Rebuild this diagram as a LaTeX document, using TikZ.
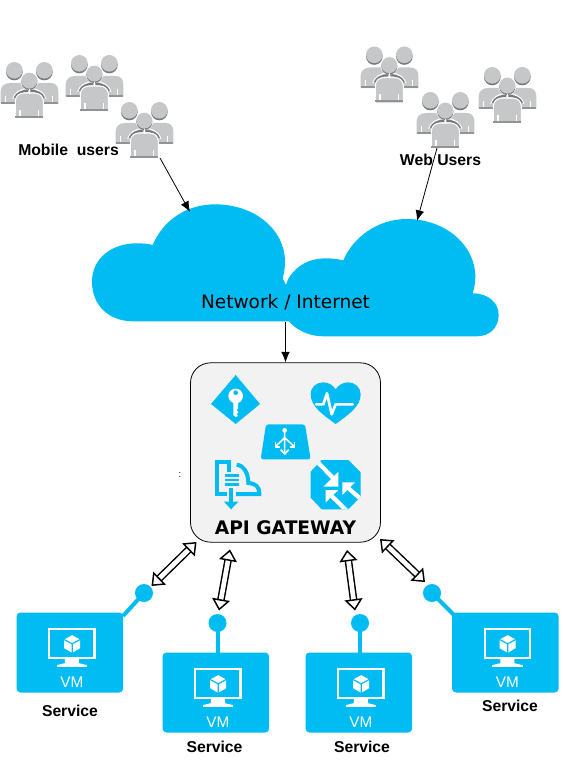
\documentclass[tikz,border=0pt]{standalone}
\usepackage{fontspec}
\setmainfont{Liberation Sans}
\newfontfamily\dejavu{DejaVu Sans}
\usetikzlibrary{arrows.meta,calc}
\definecolor{azure}{HTML}{00BCF2}
\definecolor{pgray}{HTML}{C6C7C9}
\definecolor{pdark}{HTML}{77787A}
\definecolor{gwfill}{HTML}{F2F2F2}
\tikzset{
  z3/.style={x=0.25pt,y=-0.25pt},
  label/.style={font=\bfseries\fontsize{11.8pt}{13pt}\selectfont,inner sep=0pt,text=black},
  pin/.style={circle,fill=azure,draw=none,minimum size=13.5pt,inner sep=0pt},
  flow/.style={-{Latex[length=8pt,width=6.5pt]},line width=0.6pt,black},
  dbl/.style={double=white,double distance=3.5pt,line width=1.1pt,black,
     {Triangle[open,fill=white,length=8.5pt,width=13.5pt,line width=1.1pt]}-{Triangle[open,fill=white,length=8.5pt,width=13.5pt,line width=1.1pt]}},
  people/.pic={
    \begin{scope}[z3]
      \foreach \dx in {0,90}{
        \fill[pdark] (43+\dx,30) circle (25);
        \fill[pgray] (43+\dx,25) circle (25);
        \fill[pgray] (2+\dx,125) -- (2+\dx,88) .. controls (2+\dx,72) and (14+\dx,63) .. (30+\dx,63) -- (62+\dx,63) .. controls (76+\dx,63) and (85+\dx,72) .. (85+\dx,88) -- (85+\dx,125) -- cycle;
        \fill[pdark!80!white] (2+\dx,120) rectangle (85+\dx,125);
      }
      \fill[white] (15,101) rectangle (19,120);
      \fill[white] (155,101) rectangle (159,120);
      \draw[white,line width=0.8pt] (38,110) .. controls (44,92) and (62,80) .. (85,79) -- (91,79) .. controls (114,80) and (132,92) .. (138,110);
      \draw[pdark,line width=1.5pt] (44,108) .. controls (50,93) and (66,87) .. (85,86);
      \draw[pdark,line width=1.5pt] (132,108) .. controls (126,93) and (110,87) .. (91,86);
      \draw[white,line width=0.8pt,fill=pgray] (46,170) -- (46,118) .. controls (46,102) and (58,93) .. (74,93) -- (102,93) .. controls (118,93) and (130,102) .. (130,118) -- (130,170) -- cycle;
      \fill[pdark!80!white] (46,162) rectangle (130,167);
      \fill[white] (58,143) rectangle (62,162);
      \fill[white] (114,143) rectangle (118,162);
      \fill[white] (88,57) circle (27);
      \fill[pdark] (88,60) circle (24);
      \fill[pgray] (88,56) circle (24);
      \fill[white] (86,80) rectangle (90,96);
    \end{scope}
  },
  vmbox/.pic={
    \begin{scope}[z3]
      \fill[azure,rounded corners=3pt] (0,0) rectangle (320,240);
      \draw[white,line width=1.7pt] (98,50) rectangle (234,137);
      \fill[white] (145,137) -- (187,137) -- (187,152) -- (212,158) -- (120,158) -- (145,152) -- cycle;
      \fill[white] (120,158) rectangle (212,164);
      \fill[white] (167,68) -- (191,81) -- (191,107) -- (167,121) -- (143,107) -- (143,81) -- cycle;
      \draw[azure,line width=0.9pt] (143,81) -- (167,94) -- (191,81) (167,94) -- (167,121);
      \node[inner sep=0pt,text=white,font=\fontsize{11.5pt}{13pt}\selectfont] at (166,210) {VM};
    \end{scope}
  }
}
\begin{document}
\begin{tikzpicture}[x=0.75pt,y=-0.75pt]
\useasboundingbox (0,0) rectangle (562,763);
% people
\pic at (0,62) {people};
\pic at (65,55) {people};
\pic at (115,102) {people};
\pic at (360,46.5) {people};
\pic at (416,92) {people};
\pic at (478,67) {people};
\node[label,anchor=west] (mobilelabel) at (18,150) {Mobile\ \ users};
\node[label] (weblabel) at (440.5,160) {Web Users};
% cloud
\begin{scope}[shift={(80,200)},z3]
  \fill[azure] (160,364) .. controls (85,364) and (36,315) .. (36,245)
    .. controls (36,175) and (95,130) .. (170,130)
    .. controls (188,130) and (204,131) .. (218,135)
    .. controls (250,60) and (320,13) .. (405,13)
    .. controls (525,13) and (615,90) .. (615,185)
    .. controls (615,205) and (612,220) .. (608,235)
    -- (640,300) -- (640,364) -- cycle;
  \fill[azure] (625,236)
    .. controls (650,195) and (690,175) .. (735,175)
    .. controls (755,175) and (772,177) .. (790,181)
    .. controls (820,110) and (895,57) .. (980,57)
    .. controls (1095,57) and (1186,135) .. (1186,230)
    .. controls (1186,248) and (1183,265) .. (1178,280)
    .. controls (1225,280) and (1256,308) .. (1256,345)
    .. controls (1256,382) and (1230,409) .. (1190,409)
    -- (730,409) .. controls (690,409) and (650,392) .. (625,362) -- (600,300) -- cycle;
\end{scope}
\node[inner sep=0pt,font=\dejavu\fontsize{13.9pt}{15pt}\selectfont] (net) at (285.5,302) {Network / Internet};
\coordinate (mobileend) at (160,158);
\coordinate (cloudleft) at (190,212);
\coordinate (webstart) at (437,148);
\coordinate (cloudright) at (417,221);
\coordinate (cloudbottom) at (285.5,322);
% gateway
\node[draw=black,fill=gwfill,line width=0.6pt,rounded corners=15pt,minimum width=142.5pt,minimum height=134.5pt,inner sep=0pt] (gateway) at (285.5,452.5) {};
\node[inner sep=0pt,font=\dejavu\bfseries\fontsize{14pt}{16pt}\selectfont] (gwlabel) at (285.5,528) {API GATEWAY};
\node[inner sep=0pt,font=\fontsize{7pt}{8pt}\selectfont] (dots) at (180,475) {:};
\begin{scope}[shift={(180,355)},z3]
  % key
  \fill[azure] (167,60) -- (240,147) -- (167,207) -- (93,147) -- cycle;
  \fill[white] (167,123) circle (22);
  \fill[azure] (167,113) circle (7);
  \fill[white] (160,135) -- (174,135) -- (174,160) -- (170,165) -- (175,172) -- (170,178) -- (174,183) -- (166,186) -- (160,180) -- cycle;
  % heart
  \fill[azure] (467,207) .. controls (430,180) and (392,155) .. (392,118)
    .. controls (392,95) and (410,82) .. (430,82)
    .. controls (447,82) and (460,92) .. (467,103)
    .. controls (474,92) and (487,82) .. (504,82)
    .. controls (525,82) and (542,97) .. (542,118)
    .. controls (542,155) and (504,180) .. (467,207) -- cycle;
  \draw[white,line width=2pt,line join=round,line cap=round] (408,148) -- (430,148) -- (441,115) -- (455,178) -- (467,148) -- (518,148);
  % splitter
  \fill[azure,rounded corners=2pt] (258,208) -- (375,208) -- (392,313) -- (242,313) -- cycle;
  \fill[white] (314,226) circle (7);
  \draw[white,line width=1.2pt] (314,226) -- (314,296) (314,248) -- (287,274) (314,248) -- (342,274);
  \draw[white,line width=1.2pt] (302,284) -- (314,297) -- (326,284);
  \draw[white,line width=1.2pt] (286,262) -- (286,276) -- (300,276);
  \draw[white,line width=1.2pt] (343,262) -- (343,276) -- (329,276);
  % document
  \draw[azure,line width=3pt] (148,350) -- (148,320) -- (110,320) -- (110,417) -- (140,417);
  \draw[azure,line width=3pt] (170,329) .. controls (192,332) and (205,355) .. (205,384) .. controls (228,386) and (238,395) .. (238,417) -- (168,417);
  \fill[azure] (135,358) rectangle (178,365);
  \fill[azure] (135,372) rectangle (178,379);
  \fill[azure] (135,385) rectangle (178,392);
  \fill[azure] (147,400) rectangle (159,442);
  \fill[azure] (132,440) -- (175,440) -- (153,463) -- cycle;
  % router
  \fill[azure] (425,315) -- (505,315) -- (542,352) -- (542,425) -- (505,463) -- (425,463) -- (392,428) -- (392,350) -- cycle;
  \begin{scope}
    \clip (425,315) -- (505,315) -- (542,352) -- (542,425) -- (505,463) -- (425,463) -- (392,428) -- (392,350) -- cycle;
    \draw[white,line width=3.2pt] (405,313) -- (458,368);
    \draw[white,line width=3.2pt] (450,418) -- (505,472);
    \draw[white,line width=3.2pt] (500,395) -- (555,443);
  \end{scope}
  \fill[white] (475,350) -- (475,395) -- (430,395) -- cycle;
  \fill[white] (437,405) -- (475,405) -- (437,442) -- cycle;
  \fill[white] (487,382) -- (525,382) -- (487,420) -- cycle;
\end{scope}
% services
\draw[azure,line width=3pt] (123,616) -- (144,593);
\draw[azure,line width=3pt] (217.5,623) -- (217.5,655);
\draw[azure,line width=3pt] (360,623) -- (360,655);
\draw[azure,line width=3pt] (432,593) -- (454,615);
\node[pin] (pinA) at (144,593) {};
\node[pin] (pinB) at (217.5,623) {};
\node[pin] (pinC) at (360,623) {};
\node[pin] (pinD) at (432,593) {};
\pic at (16.5,612.5) {vmbox};
\pic at (162.5,652.5) {vmbox};
\pic at (305.5,652.5) {vmbox};
\pic at (452,612.5) {vmbox};
\node[label] (svcA) at (70,711) {Service};
\node[label] (svcB) at (214.5,747) {Service};
\node[label] (svcC) at (362,747) {Service};
\node[label] (svcD) at (510,706) {Service};
% connectors
\draw[flow] (mobileend) -- (cloudleft);
\draw[flow] (webstart) -- (cloudright);
\draw[flow] (cloudbottom) -- (gateway.north);
\coordinate (gwA) at (196.5,542);
\coordinate (gwB) at (230,549.5);
\coordinate (gwC) at (347,550);
\coordinate (gwD) at (380,539);
\coordinate (pA) at (151.5,586);
\coordinate (pB) at (219,610.5);
\coordinate (pC) at (355,610.5);
\coordinate (pD) at (425,582);
\draw[dbl] (pA) -- (gwA);
\draw[dbl] (pB) -- (gwB);
\draw[dbl] (pC) -- (gwC);
\draw[dbl] (pD) -- (gwD);
\end{tikzpicture}
\end{document}
